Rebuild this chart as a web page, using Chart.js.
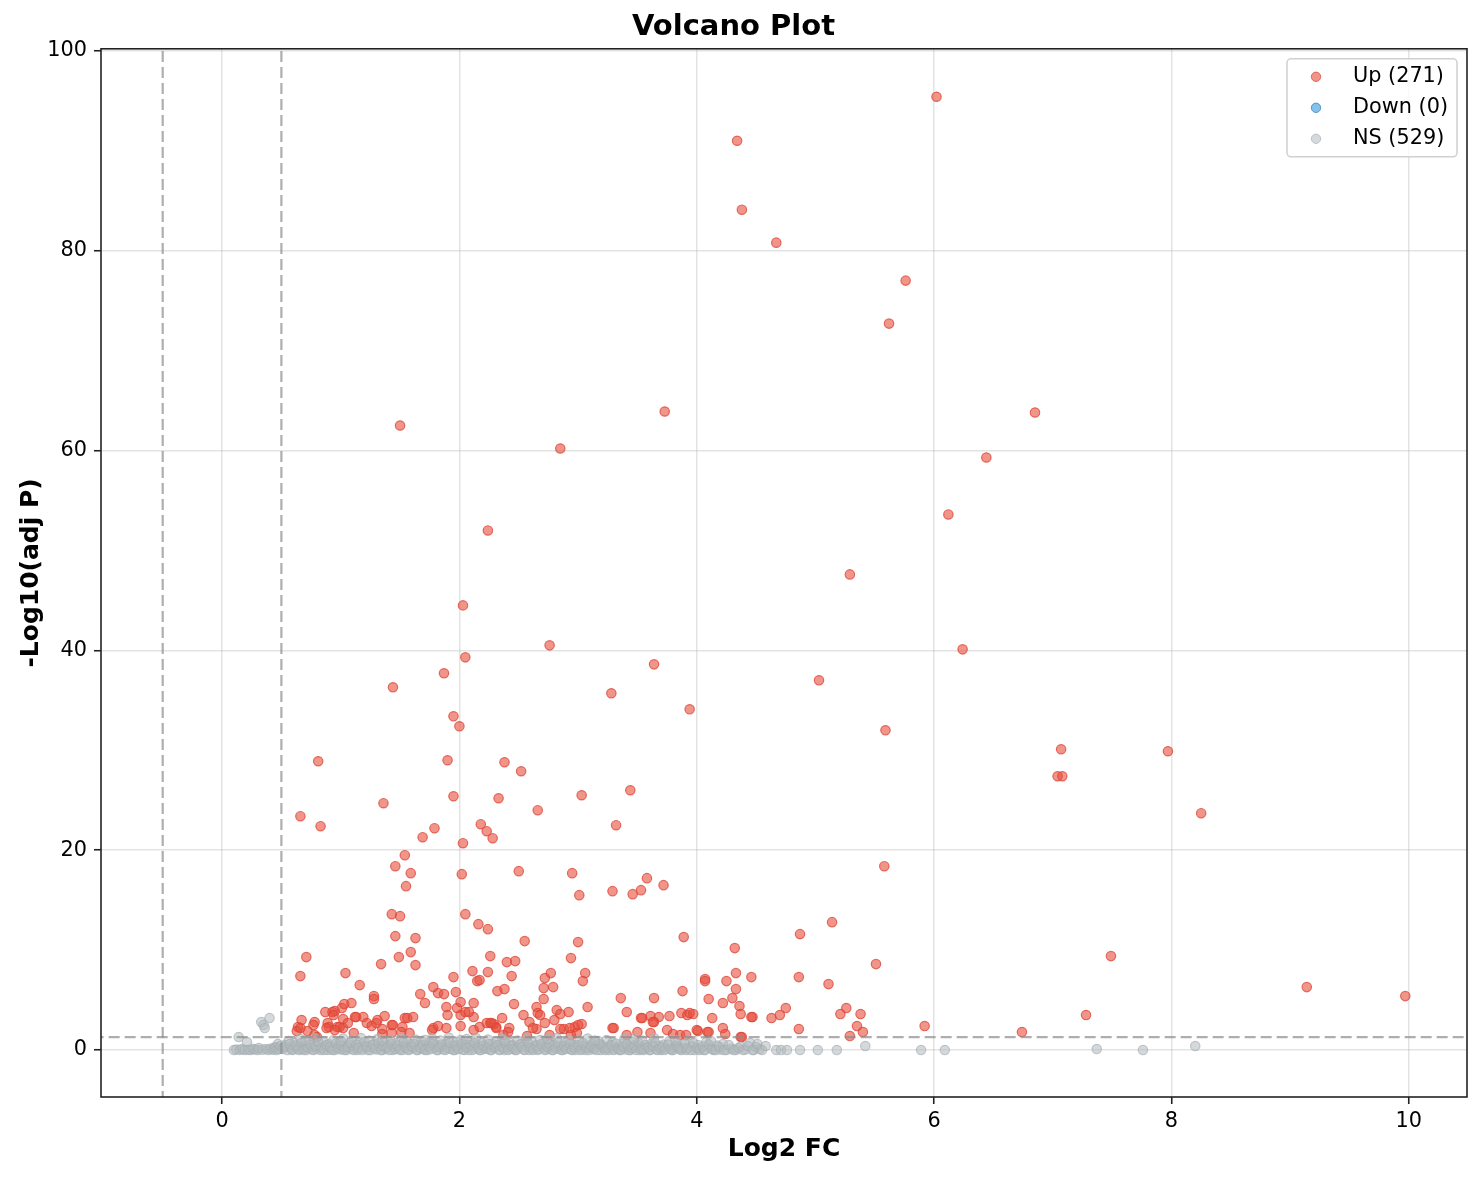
<!DOCTYPE html>
<html>
<head>
<meta charset="utf-8">
<title>Volcano Plot</title>
<script src="https://cdn.jsdelivr.net/npm/chart.js@4.4.1/dist/chart.umd.min.js"></script>
<style>
    html, body { margin: 0; padding: 0; background: #fff; }
    #wrap { width: 1482px; height: 1180px; }
</style>
</head>
<body>
<div id="wrap"><canvas id="chart"></canvas></div>
<script>
// [log2FC, -log10(adj P)]
const upPoints = [
    [6.02,95.4],[4.34,91.0],[4.38,84.1],[4.67,80.8],[5.76,77.0],[5.62,72.7],[3.73,63.9],[6.85,63.8],
    [1.50,62.5],[2.85,60.2],[6.44,59.3],[6.12,53.6],[2.24,52.0],[5.29,47.6],[2.03,44.5],[6.24,40.1],
    [2.76,40.5],[2.05,39.3],[3.64,38.6],[1.87,37.7],[1.44,36.3],[5.03,37.0],[3.28,35.7],[3.94,34.1],
    [1.95,33.4],[2.00,32.4],[5.59,32.0],[7.07,30.1],[7.97,29.9],[0.81,28.9],[1.90,29.0],[2.38,28.8],
    [2.52,27.9],[7.04,27.4],[7.08,27.4],[3.44,26.0],[3.03,25.5],[2.33,25.2],[1.95,25.4],[1.36,24.7],
    [2.66,24.0],[8.25,23.7],[0.66,23.4],[0.83,22.4],[3.32,22.5],[2.18,22.6],[2.23,21.9],[1.79,22.2],
    [2.28,21.2],[1.69,21.3],[2.03,20.7],[1.54,19.5],[1.46,18.4],[5.58,18.4],[1.59,17.7],[2.50,17.9],
    [2.95,17.7],[2.02,17.6],[3.58,17.2],[3.72,16.5],[1.55,16.4],[3.53,16.0],[3.29,15.9],[3.46,15.6],
    [3.01,15.5],
    [1.43,13.6],[1.50,13.4],[2.05,13.6],[2.16,12.6],[2.24,12.1],[1.46,11.4],[1.63,11.2],[1.59,9.8],
    [0.71,9.3],[1.49,9.3],[1.34,8.6],[1.63,8.5],[2.26,9.4],[2.11,7.9],[2.24,7.8],[1.04,7.7],
    [0.66,7.4],[1.16,6.5],[1.28,5.4],[1.28,5.1],[1.95,7.3],[2.15,6.9],[1.78,6.3],[1.97,5.8],
    [1.82,5.7],[1.87,5.6],[1.67,5.6],[2.32,5.9],[2.55,10.9],[3.89,11.3],[4.32,10.2],[2.40,8.8],
    [2.47,8.9],[3.00,10.8],[2.94,9.2],[2.44,7.4],[2.77,7.7],[3.06,7.7],[2.72,7.2],[3.04,6.9],
    [4.07,7.1],[4.07,6.9],[4.33,7.7],[4.46,7.3],[4.25,6.9],[2.17,7.0],[2.71,6.2],[2.79,6.3],
    [2.38,6.1],[3.88,5.9],[4.33,6.1],[2.71,5.1],[3.36,5.2],[3.64,5.2],[4.10,5.1],[4.30,5.2],
    [5.14,12.8],[4.87,11.6],[5.51,8.6],[4.86,7.3],[5.11,6.6],[7.49,9.4],[9.14,6.3],[9.97,5.4],
    [1.71,4.7],[1.89,4.3],[1.98,4.2],[2.01,4.8],[2.12,4.7],[1.90,3.5],[2.01,3.5],[2.05,3.8],
    [2.12,3.3],[2.01,2.4],[2.26,2.7],[2.31,2.3],[0.87,3.8],[0.93,3.8],[0.95,3.9],[1.01,4.2],
    [1.03,4.6],[1.09,4.7],[0.94,3.5],[1.02,3.1],[1.12,3.3],[1.19,3.3],[1.22,2.7],[1.26,2.4],
    [1.31,3.0],[1.37,3.4],[1.43,2.5],[1.52,2.3],[1.54,3.2],[1.61,3.3],[1.35,2.1],[0.67,3.0],
    [0.78,2.8],[0.64,2.3],[0.63,1.9],[0.72,1.9],[0.89,2.7],[0.90,2.3],[0.97,2.3],[1.02,2.2],
    [1.11,1.7],[1.35,1.6],[1.43,1.7],[1.51,1.8],[1.58,1.7],[0.78,1.5],[1.78,2.2],[1.82,2.4],
    [1.89,2.2],[1.77,2.0],[2.46,4.6],[3.08,4.3],[4.36,4.4],[4.37,3.6],[4.22,4.7],[2.65,4.3],
    [2.66,3.7],[2.68,3.5],[2.54,3.5],[2.82,4.0],[2.92,3.8],[2.85,3.6],[3.41,3.8],[3.53,3.2],
    [3.61,3.4],[3.68,3.3],[3.77,3.4],[3.64,2.8],[3.87,3.7],[3.92,3.5],[3.97,3.6],[4.13,3.2],
    [4.47,3.3],[4.63,3.2],[2.36,3.2],[2.59,2.8],[2.72,2.7],[2.80,3.0],[2.88,2.1],[2.97,2.3],
    [3.03,2.6],[2.17,2.3],[2.23,2.7],[2.29,2.6],[2.31,2.2],[2.42,2.2],[2.65,2.1],[2.85,2.1],
    [3.29,2.2],[3.75,2.0],[3.80,1.6],[3.61,1.7],[4.01,1.9],[4.09,1.8],[4.22,2.2],[4.24,1.6],
    [4.37,1.3],[3.50,1.8],[3.41,1.5],[3.86,1.5],[3.91,1.5],[2.57,1.4],[2.94,1.5],[2.99,1.7],
    [2.76,1.5],[2.37,1.5],[2.41,1.8],[0.66,2.2],[0.77,2.5],[0.80,1.3],[0.99,2.3],[0.95,2.0],
    [0.88,2.2],[1.06,2.7],[1.13,3.3],[1.30,2.7],[1.44,2.5],[1.56,3.2],[2.08,3.8],[2.12,2.0],
    [2.27,2.7],[2.62,2.2],[2.93,2.2],[3.00,2.5],[3.30,2.2],[3.54,3.2],[3.63,2.8],[3.94,3.7],
    [4.00,2.0],[4.10,1.8],[4.38,1.3],[4.46,3.3],[4.75,4.2],[4.70,3.5],[5.26,4.2],[5.21,3.6],
    [5.38,3.6],[4.86,2.1],[5.35,2.4],[5.40,1.8],[5.29,1.4],[5.92,2.4],[6.74,1.8],[7.28,3.5]
];

const downPoints = [];

const nsPoints = [
    [0.10,0.0],[0.12,0.05],[0.14,1.3],[0.15,0.02],[0.17,0.1],[0.19,0.0],[0.21,0.8],[0.22,0.03],
    [0.24,0.0],[0.26,0.12],[0.28,0.05],[0.30,0.0],[0.31,0.2],[0.33,2.8],[0.34,0.04],[0.35,2.5],
    [0.36,2.2],[0.37,0.1],[0.39,0.0],[0.40,3.2],[0.41,0.15],[0.43,0.03],[0.44,0.2],[0.45,0.3],
    [0.46,0.0],[0.47,0.6],[0.48,0.1],[0.49,0.4],
    [0.51,0.1],[0.53,0.5],[0.55,0.0],[0.56,0.9],[0.58,0.2],[0.60,0.05],[0.61,0.7],[0.63,0.3],
    [0.65,0.0],[0.66,1.1],[0.68,0.15],[0.70,0.4],[0.71,0.0],[0.73,0.8],[0.75,0.25],[0.76,0.05],
    [0.78,1.2],[0.80,0.1],[0.82,0.5],[0.83,0.0],[0.85,0.9],[0.87,0.3],[0.89,0.02],[0.90,0.6],
    [0.92,0.1],[0.94,1.0],[0.95,0.0],[0.97,0.35],[0.99,0.7],[1.00,0.05],[1.02,1.15],[1.04,0.2],
    [1.05,0.0],[1.07,0.55],[1.09,0.9],[1.10,0.1],[1.12,0.3],[1.14,0.0],[1.16,0.75],[1.17,1.2],
    [1.19,0.15],[1.21,0.45],[1.23,0.0],[1.24,0.95],[1.26,0.25],[1.28,0.6],[1.30,0.05],[1.31,1.1],
    [1.33,0.35],[1.35,0.0],[1.37,0.8],[1.38,0.1],[1.40,0.5],[1.42,1.0],[1.44,0.0],[1.45,0.3],
    [1.47,0.7],[1.49,0.15],[1.51,1.2],[1.52,0.0],[1.54,0.4],[1.56,0.85],[1.58,0.05],[1.59,0.6],
    [1.61,0.2],[1.63,1.05],[1.65,0.0],[1.66,0.45],[1.68,0.9],[1.70,0.1],[1.72,0.3],[1.73,0.0],
    [1.75,0.75],[1.77,1.15],[1.79,0.2],[1.80,0.5],[1.82,0.0],[1.84,0.95],[1.86,0.35],[1.87,0.05],
    [1.89,0.65],[1.91,1.25],[1.93,0.1],[1.94,0.4],[1.96,0.0],[1.98,0.8],[2.00,0.2],[2.01,1.0],
    [2.03,0.05],[2.05,0.55],[2.07,0.3],[2.08,0.0],[2.10,0.9],[2.12,0.15],[2.14,1.2],[2.15,0.45],
    [2.17,0.0],[2.19,0.7],[2.21,0.1],[2.22,0.35],[2.24,1.05],[2.26,0.0],[2.28,0.6],[2.29,0.2],
    [2.31,0.85],[2.33,0.05],[2.35,0.4],[2.36,1.15],[2.38,0.0],[2.40,0.3],[2.42,0.75],[2.43,0.1],
    [2.45,0.5],[2.47,0.0],[2.49,0.95],[2.50,0.25],[2.52,0.6],[2.54,0.05],[2.56,1.1],[2.57,0.35],
    [2.59,0.0],[2.61,0.8],[2.63,0.15],[2.64,0.45],[2.66,0.0],[2.68,1.0],[2.70,0.3],[2.71,0.65],
    [2.73,0.05],[2.75,0.2],[2.77,0.9],[2.78,0.0],[2.80,0.5],[2.82,1.2],[2.84,0.1],[2.85,0.35],
    [2.87,0.0],[2.89,0.7],[2.91,0.25],[2.92,1.05],[2.94,0.05],[2.96,0.55],[2.98,0.0],[2.99,0.3],
    [3.01,0.85],[3.03,0.1],[3.05,0.45],[3.06,0.0],[3.08,1.15],[3.10,0.2],[3.12,0.6],[3.13,0.05],
    [3.15,0.35],[3.17,0.9],[3.19,0.0],[3.20,0.5],[3.22,0.15],[3.24,1.0],[3.26,0.0],[3.27,0.4],
    [3.29,0.75],[3.31,0.1],[3.33,0.25],[3.35,0.0],[3.37,0.6],[3.39,1.1],[3.40,0.05],[3.42,0.35],
    [3.44,0.0],[3.46,0.8],[3.48,0.2],[3.50,0.5],[3.52,0.0],[3.54,0.95],[3.56,0.1],[3.58,0.3],
    [3.60,0.0],[3.62,0.65],[3.64,1.2],[3.66,0.05],[3.68,0.4],[3.70,0.0],[3.72,0.55],[3.74,0.15],
    [3.77,0.9],[3.79,0.0],[3.81,0.3],[3.84,0.6],[3.86,0.05],[3.88,0.2],[3.91,0.0],[3.93,1.0],
    [3.96,0.35],[3.98,0.0],[4.01,0.5],[4.03,0.1],[4.06,0.0],[4.08,0.8],[4.11,0.25],[4.14,0.0],
    [4.17,0.45],[4.20,0.05],[4.22,0.6],[4.25,0.0],[4.29,0.15],[4.33,0.0],[4.37,0.35],[4.41,0.05],
    [4.45,0.7],[4.48,0.0],[4.50,0.3],[4.53,0.1],
    [0.52,0.3],[0.57,0.6],[0.59,0.0],[0.62,0.45],[0.64,0.1],[0.67,0.7],[0.69,0.0],[0.72,0.25],
    [0.74,0.55],[0.77,0.0],[0.79,0.4],[0.81,0.85],[0.84,0.2],[0.86,0.0],[0.88,0.5],[0.91,0.3],
    [0.93,0.0],[0.96,0.65],[0.98,0.15],[1.01,0.4],[1.03,0.0],[1.06,0.3],[1.08,0.7],[1.11,0.0],
    [1.13,0.55],[1.15,0.2],[1.18,0.0],[1.20,0.8],[1.22,0.3],[1.25,0.0],[1.27,0.5],[1.29,0.15],
    [1.32,0.7],[1.34,0.0],[1.36,0.4],[1.39,0.25],[1.41,0.0],[1.43,0.6],[1.46,0.1],[1.48,0.45],
    [1.50,0.0],[1.53,0.75],[1.55,0.2],[1.57,0.0],[1.60,0.35],[1.62,0.6],[1.64,0.0],[1.67,0.2],
    [1.69,0.5],[1.71,0.0],[1.74,0.4],[1.76,0.1],[1.78,0.65],[1.81,0.0],[1.83,0.3],[1.85,0.55],
    [1.88,0.0],[1.90,0.2],[1.92,0.7],[1.95,0.0],[1.97,0.45],[1.99,0.1],[2.02,0.6],[2.04,0.0],
    [2.06,0.25],[2.09,0.5],[2.11,0.0],[2.13,0.7],[2.16,0.2],[2.18,0.0],[2.20,0.45],[2.23,0.15],
    [2.25,0.6],[2.27,0.0],[2.30,0.3],[2.32,0.5],[2.34,0.0],[2.37,0.2],[2.39,0.65],[2.41,0.0],
    [2.44,0.4],[2.46,0.15],[2.48,0.0],[2.51,0.55],[2.53,0.3],[2.55,0.0],[2.58,0.7],[2.60,0.2],
    [2.62,0.0],[2.65,0.45],[2.67,0.1],[2.69,0.6],[2.72,0.0],[2.74,0.35],[2.76,0.55],[2.79,0.0],
    [2.81,0.2],[2.83,0.75],[2.86,0.0],[2.88,0.4],[2.90,0.1],[2.93,0.6],[2.95,0.0],[2.97,0.25],
    [3.00,0.5],[3.02,0.0],[3.04,0.7],[3.07,0.2],[3.09,0.0],[3.11,0.4],[3.14,0.15],[3.16,0.0],
    [3.18,0.6],[3.21,0.3],[3.23,0.0],[3.25,0.2],[3.28,0.5],[3.30,0.0],[3.32,0.65],[3.34,0.1],
    [3.36,0.0],[3.38,0.35],[3.41,0.55],[3.43,0.0],[3.45,0.2],[3.47,0.45],[3.49,0.0],[3.51,0.7],
    [3.53,0.15],[3.55,0.0],[3.57,0.5],[3.59,0.25],[3.61,0.0],[3.63,0.4],[3.65,0.7],[3.67,0.0],
    [3.69,0.2],[3.71,0.35],[3.73,0.0],[3.76,0.55],[3.78,0.1],[3.80,0.0],[3.83,0.4],[3.85,0.2],
    [3.87,0.0],[3.90,0.6],[3.92,0.15],[3.95,0.0],[3.97,0.7],[4.00,0.2],[4.02,0.0],[4.05,0.35],
    [4.07,0.0],[4.10,0.55],[4.13,0.1],[4.16,0.0],[4.19,0.3],[4.23,0.0],[4.27,0.5],[4.31,0.0],
    [4.35,0.2],[4.39,0.0],[4.43,0.4],[4.47,0.0],[4.51,0.6],[4.12,0.9],[3.82,1.0],[3.47,1.1],
    [3.14,0.95],[2.74,1.1],[2.38,0.95],[2.06,1.1],[1.71,1.0],[1.35,0.95],[1.00,0.9],[0.70,0.95],
    [4.55,0.0],[4.58,0.4],[4.67,0.0],[4.71,0.0],[4.76,0.0],[4.87,0.0],[5.02,0.0],[5.18,0.0],
    [5.42,0.4],[5.89,0.0],[6.09,0.0],[7.37,0.1],[7.76,0.0],[8.20,0.4]
];

const seriesLabels = ['Up (271)', 'Down (0)', 'NS (529)'];
const fcCut = 0.5;
const pCut = 1.301; // -log10(0.05)

const xTicks = [0, 2, 4, 6, 8, 10];
const yTicks = [0, 20, 40, 60, 80, 100];

const FONT = "'DejaVu Sans', sans-serif";

function toXY(list) {
    return list.map(p => ({x: p[0], y: p[1]}));
}

// top and right spines like matplotlib
const framePlugin = {
    id: 'frame',
    afterDatasetsDraw(chart) {
        const a = chart.chartArea, ctx = chart.ctx;
        ctx.save();
        ctx.strokeStyle = '#222';
        ctx.lineWidth = 1.6;
        ctx.strokeRect(a.left, a.top, a.right - a.left, a.bottom - a.top);
        ctx.restore();
    }
};

const legendPlugin = {
    id: 'boxLegend',
    afterDraw(chart) {
        const ctx = chart.ctx, a = chart.chartArea;
        const items = chart.data.datasets.filter(d => d.inLegend);
        const w = 170, rowH = 31, h = items.length * rowH + 5;
        const x0 = a.right - 10 - w, y0 = a.top + 10;
        ctx.save();
        ctx.beginPath();
        ctx.roundRect(x0, y0, w, h, 4);
        ctx.fillStyle = 'rgba(255,255,255,0.8)';
        ctx.fill();
        ctx.strokeStyle = '#d0d0d0';
        ctx.lineWidth = 1.5;
        ctx.stroke();
        ctx.font = '20.8px ' + FONT;
        ctx.textBaseline = 'middle';
        items.forEach((d, i) => {
            const cy = y0 + 18 + i * rowH;
            ctx.beginPath();
            ctx.arc(x0 + 29, cy, 4.7, 0, Math.PI * 2);
            ctx.fillStyle = d.backgroundColor;
            ctx.fill();
            ctx.strokeStyle = d.borderColor;
            ctx.lineWidth = 1;
            ctx.stroke();
            ctx.fillStyle = '#000';
            ctx.fillText(d.label, x0 + 66, cy);
        });
        ctx.restore();
    }
};

function threshold(points) {
    return {
        type: 'line',
        data: points,
        showLine: true,
        borderColor: 'rgba(140,140,140,0.7)',
        borderWidth: 2.2,
        borderDash: [11, 5],
        pointRadius: 0,
        order: 0
    };
}

new Chart(document.getElementById('chart'), {
    type: 'scatter',
    data: {
        datasets: [
            threshold([{x: -fcCut, y: -10}, {x: -fcCut, y: 110}]),
            threshold([{x: fcCut, y: -10}, {x: fcCut, y: 110}]),
            threshold([{x: -5, y: pCut}, {x: 15, y: pCut}]),
            {
                label: seriesLabels[0],
                data: toXY(upPoints),
                backgroundColor: 'rgba(231,76,60,0.6)',
                borderColor: 'rgba(220,68,52,0.75)',
                borderWidth: 1.2,
                pointRadius: 4.7,
                inLegend: true,
                order: 3
            },
            {
                label: seriesLabels[1],
                data: toXY(downPoints),
                backgroundColor: 'rgba(52,152,219,0.6)',
                borderColor: 'rgba(41,128,185,0.75)',
                borderWidth: 1.2,
                pointRadius: 4.7,
                inLegend: true,
                order: 2
            },
            {
                label: seriesLabels[2],
                data: toXY(nsPoints),
                backgroundColor: 'rgba(178,186,190,0.55)',
                borderColor: 'rgba(165,173,178,0.65)',
                borderWidth: 1.2,
                pointRadius: 4.7,
                inLegend: true,
                order: 1
            }
        ]
    },
    options: {
        responsive: true,
        maintainAspectRatio: false,
        animation: false,
        layout: { padding: { left: 0, right: 15, top: 0, bottom: 0 } },
        plugins: {
            legend: { display: false },
            tooltip: { enabled: false },
            title: {
                display: true,
                text: 'Volcano Plot',
                color: '#000',
                font: { family: FONT, size: 29, weight: 'bold' },
                padding: { top: 10.5, bottom: 3.5 }
            }
        },
        scales: {
            x: {
                type: 'linear',
                min: -1.02,
                max: 10.49,
                afterFit(scale) { scale.height = 83; },
                afterBuildTicks(scale) { scale.ticks = xTicks.map(v => ({value: v})); },
                ticks: {
                    color: '#000',
                    font: { family: FONT, size: 20.8 },
                    padding: 5,
                    includeBounds: false
                },
                grid: {
                    color: 'rgba(176,176,176,0.35)',
                    lineWidth: 1.5,
                    tickColor: '#222',
                    tickLength: 7,
                    tickWidth: 1.6
                },
                border: { display: false },
                title: {
                    display: true,
                    text: 'Log2 FC',
                    color: '#000',
                    font: { family: FONT, size: 25, weight: 'bold' },
                    padding: { top: 0, bottom: 16 }
                }
            },
            y: {
                type: 'linear',
                min: -4.7,
                max: 100.2,
                afterFit(scale) { scale.width = 101; },
                afterBuildTicks(scale) { scale.ticks = yTicks.map(v => ({value: v})); },
                ticks: {
                    color: '#000',
                    font: { family: FONT, size: 20.8 },
                    padding: 7,
                    includeBounds: false
                },
                grid: {
                    color: 'rgba(176,176,176,0.35)',
                    lineWidth: 1.5,
                    tickColor: '#222',
                    tickLength: 7,
                    tickWidth: 1.6
                },
                border: { display: false },
                title: {
                    display: true,
                    text: '-Log10(adj P)',
                    color: '#000',
                    font: { family: FONT, size: 25, weight: 'bold' },
                    padding: { top: 16, bottom: 0 }
                }
            }
        }
    },
    plugins: [framePlugin, legendPlugin]
});
</script>
</body>
</html>
